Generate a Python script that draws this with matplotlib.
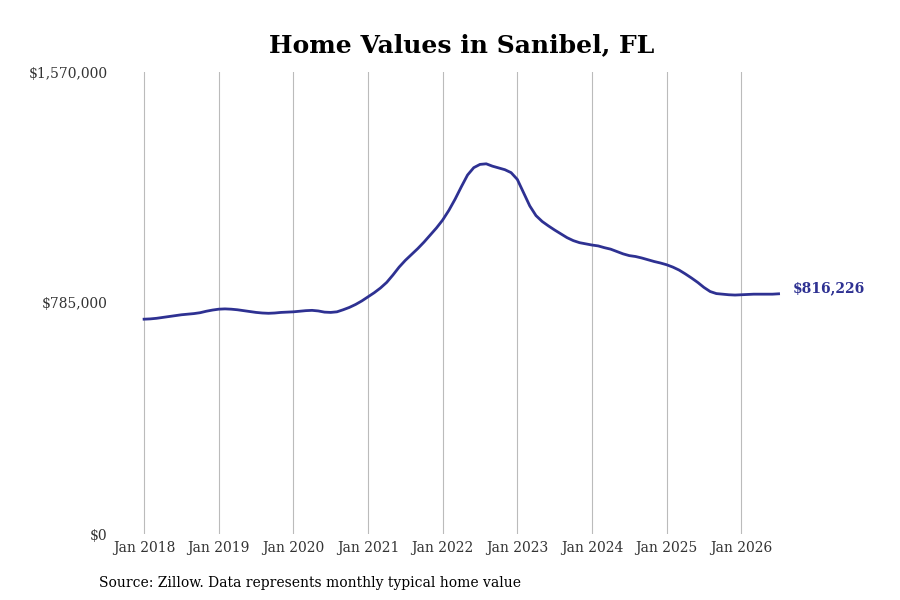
import matplotlib
matplotlib.use('Agg')
import matplotlib.pyplot as plt
import matplotlib.ticker as ticker
import numpy as np

plt.rcParams['font.family'] = 'DejaVu Serif'

# monthly typical home value, Jan 2018 .. Jul 2026 (thousands of dollars)
values_2018 = [730, 731, 733, 736, 739, 742, 745, 747, 749, 752, 757, 761]
values_2019 = [764, 765, 764, 762, 759, 756, 753, 751, 750, 751, 753, 754]
values_2020 = [755, 757, 759, 760, 758, 754, 753, 755, 762, 770, 780, 792]
values_2021 = [806, 820, 836, 855, 880, 907, 930, 950, 970, 992, 1016, 1040]
values_2022 = [1067, 1100, 1138, 1180, 1220, 1245, 1256, 1258, 1250, 1244, 1238, 1228]
values_2023 = [1205, 1160, 1115, 1082, 1062, 1047, 1033, 1020, 1007, 997, 990, 986]
values_2024 = [982, 979, 973, 968, 960, 952, 946, 943, 938, 932, 926, 921]
values_2025 = [915, 907, 897, 884, 870, 855, 838, 824, 817, 815, 813, 812]
values_2026 = [813, 814, 815, 815, 815, 815, 816.226]

year_labels = ['Jan 2018', 'Jan 2019', 'Jan 2020', 'Jan 2021', 'Jan 2022',
               'Jan 2023', 'Jan 2024', 'Jan 2025', 'Jan 2026']
y_ticks = [0, 785000, 1570000]

values = np.array(values_2018 + values_2019 + values_2020 + values_2021 + values_2022
                  + values_2023 + values_2024 + values_2025 + values_2026) * 1000
months = np.arange(len(values))

line_color = '#2e3192'

fig = plt.figure(figsize=(9, 6), dpi=100)
ax = fig.add_axes([0.129, 0.11, 0.743, 0.77])

ax.plot(months, values, color=line_color, linewidth=2)

ax.set_xlim(-4.5, 103)
ax.set_ylim(0, 1570000)
ax.set_xticks(np.arange(len(year_labels)) * 12)
ax.set_xticklabels(year_labels)
ax.set_yticks(y_ticks)
ax.yaxis.set_major_formatter(ticker.FuncFormatter(lambda v, _: f'${v:,.0f}'))
ax.tick_params(axis='both', length=0, labelsize=10, colors='#333333')
ax.tick_params(axis='x', pad=5)
ax.tick_params(axis='y', pad=6)
ax.grid(axis='x', color='#bbbbbb', linewidth=0.8)
ax.set_axisbelow(True)
for s in ax.spines.values():
    s.set_visible(False)

ax.annotate(f'${values[-1]:,.0f}', xy=(months[-1], values[-1]), xytext=(10, 4),
            textcoords='offset points', va='center', ha='left',
            fontsize=10, fontweight='bold', color=line_color)

fig.text(0.513, 0.925, 'Home Values in Sanibel, FL', ha='center', va='center',
         fontsize=18, fontweight='bold')
fig.text(0.11, 0.029, 'Source: Zillow. Data represents monthly typical home value',
         ha='left', va='center', fontsize=10)

fig.savefig('out.png', dpi=100)
